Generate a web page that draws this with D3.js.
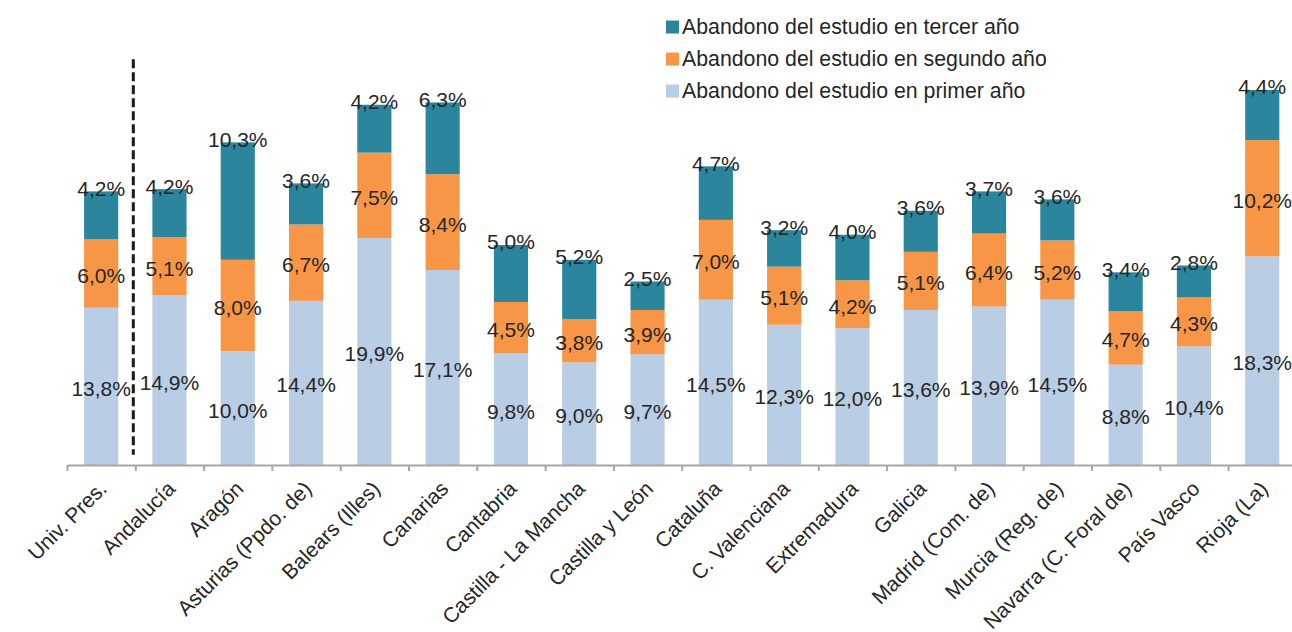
<!DOCTYPE html>
<html>
<head>
<meta charset="utf-8">
<script src="https://cdn.jsdelivr.net/npm/d3@7"></script>
<style>
  html, body { margin: 0; padding: 0; background: #fff; }
  svg { display: block; font-family: "Liberation Sans", Arial, sans-serif; }
</style>
</head>
<body>
<svg id="chart" width="1292" height="632"></svg>
<script>
const categories = ["Univ. Pres.", "Andalucía", "Aragón", "Asturias (Ppdo. de)", "Balears (Illes)", "Canarias", "Cantabria", "Castilla - La Mancha", "Castilla y León", "Cataluña", "C. Valenciana", "Extremadura", "Galicia", "Madrid (Com. de)", "Murcia (Reg. de)", "Navarra (C. Foral de)", "País Vasco", "Rioja (La)"];
const primerAno  = [13.8, 14.9, 10.0, 14.4, 19.9, 17.1, 9.8, 9.0, 9.7, 14.5, 12.3, 12.0, 13.6, 13.9, 14.5, 8.8, 10.4, 18.3];
const segundoAno = [6.0, 5.1, 8.0, 6.7, 7.5, 8.4, 4.5, 3.8, 3.9, 7.0, 5.1, 4.2, 5.1, 6.4, 5.2, 4.7, 4.3, 10.2];
const tercerAno  = [4.2, 4.2, 10.3, 3.6, 4.2, 6.3, 5.0, 5.2, 2.5, 4.7, 3.2, 4.0, 3.6, 3.7, 3.6, 3.4, 2.8, 4.4];
const seriesNames = ["Abandono del estudio en primer año", "Abandono del estudio en segundo año", "Abandono del estudio en tercer año"];
const seriesKeys = ["primer", "segundo", "tercer"];
const seriesColors = ["#B9CDE5", "#F79646", "#2B869D"];

const svg = d3.select("#chart");
const textColor = "#262626";

const table = categories.map((c, i) => ({cat: c, primer: primerAno[i], segundo: segundoAno[i], tercer: tercerAno[i]}));
const stacked = d3.stack().keys(seriesKeys)(table);

const x0 = 67, step = 68.3;
const x = d3.scaleBand().domain(categories).range([x0, x0 + step * categories.length]).paddingInner(0.5).paddingOuter(0.25);
const xEdge = d3.scaleLinear().domain([0, categories.length]).range([x0, x0 + step * categories.length]);
const y = d3.scaleLinear().domain([0, 40]).range([465, 465 - 40 * 11.4]);
const color = d3.scaleOrdinal().domain(seriesKeys).range(seriesColors);

// bars
const layers = svg.append("g").selectAll("g").data(stacked).join("g").attr("fill", d => color(d.key));
layers.selectAll("rect").data(d => d).join("rect")
  .attr("x", d => x(d.data.cat))
  .attr("width", x.bandwidth())
  .attr("y", d => y(d[1]))
  .attr("height", d => y(d[0]) - y(d[1]));

// value labels
const fmt = v => v.toFixed(1).replace(".", ",") + "%";
stacked.forEach((layer, li) => {
  svg.append("g").selectAll("text").data(layer).join("text")
    .attr("x", d => x(d.data.cat) + x.bandwidth() / 2)
    .attr("y", d => li === 2 ? y(d[1]) - 3 : (y(d[0]) + y(d[1])) / 2 + 2)
    .attr("text-anchor", "middle")
    .attr("dominant-baseline", "central")
    .attr("font-size", 21)
    .attr("fill", textColor)
    .text(d => fmt(d[1] - d[0]));
});

// x axis
const axis = d3.axisBottom(xEdge).tickValues(d3.range(0, categories.length + 1)).tickFormat("").tickSize(6).tickSizeOuter(0);
const ax = svg.append("g").attr("transform", `translate(0,${y(0)})`).call(axis);
ax.select(".domain").attr("stroke", "#A6A6A6").attr("stroke-width", 2);
ax.selectAll(".tick line").attr("stroke", "#A6A6A6").attr("stroke-width", 2);

// category labels
svg.append("g").selectAll("text").data(categories).join("text")
  .attr("transform", d => `translate(${x(d) + x.bandwidth() / 2 + 7},${y(0) + 25}) rotate(-45)`)
  .attr("text-anchor", "end")
  .attr("font-size", 21)
  .attr("fill", textColor)
  .text(d => d);

// dashed separator
svg.append("line")
  .attr("x1", xEdge(1) - 2).attr("x2", xEdge(1) - 2)
  .attr("y1", y(35.6)).attr("y2", y(0.9))
  .attr("stroke", "#1a1a1a").attr("stroke-width", 3).attr("stroke-dasharray", "9,4");

// legend
const legendOrder = [2, 1, 0];
const lg = svg.append("g").attr("transform", "translate(666,27)");
legendOrder.forEach((si, r) => {
  const g = lg.append("g").attr("transform", `translate(0,${r * 32})`);
  g.append("rect").attr("x", 0).attr("y", -6.5).attr("width", 13).attr("height", 13).attr("fill", seriesColors[si]);
  g.append("text").attr("x", 16).attr("y", 0).attr("dominant-baseline", "central")
    .attr("font-size", 21.3).attr("fill", textColor).text(seriesNames[si]);
});
</script>
</body>
</html>
